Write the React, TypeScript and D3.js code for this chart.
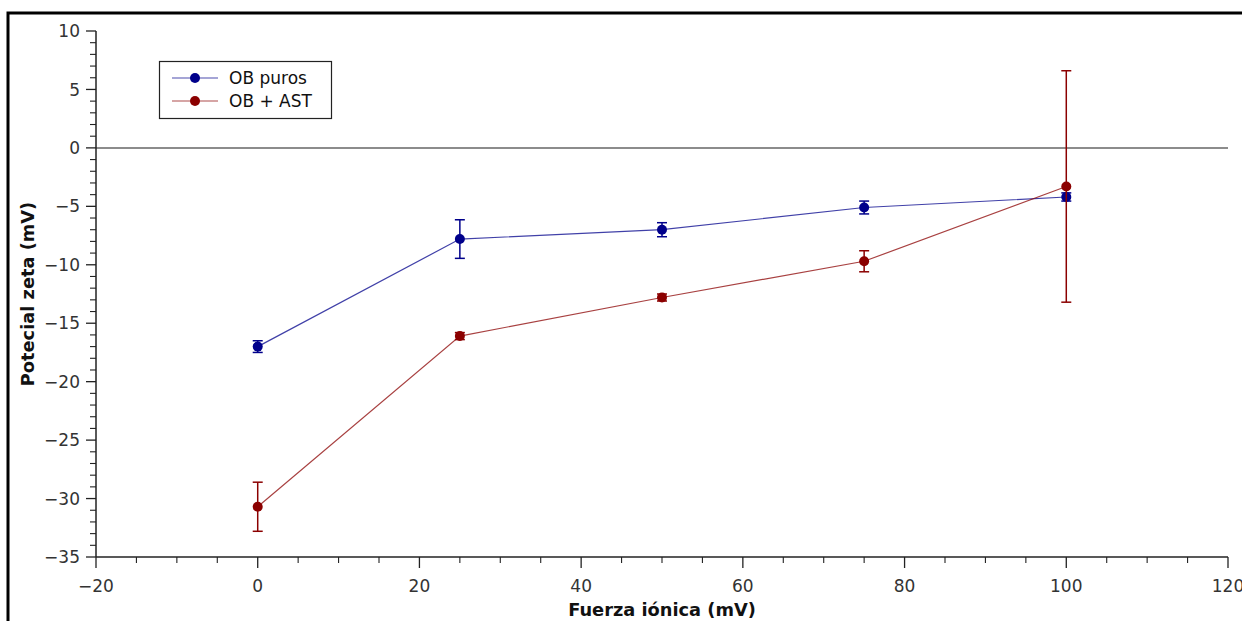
import * as d3 from 'd3';

const fuerza = [0, 25, 50, 75, 100];
const obPuros = [-17.0, -7.8, -7.0, -5.1, -4.2];
const obPurosErr = [0.5, 1.65, 0.6, 0.55, 0.35];
const obAst = [-30.7, -16.1, -12.8, -9.7, -3.3];
const obAstErr = [2.1, 0.3, 0.3, 0.9, 9.9];

const seriesNames = ['OB puros', 'OB + AST'];
const seriesColors = ['#00008b', '#8b0000'];

const xTicks = [-20, 0, 20, 40, 60, 80, 100, 120];
const yTicks = [10, 5, 0, -5, -10, -15, -20, -25, -30, -35];

const width = 1242;
const height = 621;
const marginLeft = 96;
const marginRight = 14;
const marginTop = 31;
const marginBottom = 64;

const font = 'DejaVu Sans, sans-serif';

function App() {
    const x = d3.scaleLinear([-20, 120], [marginLeft, width - marginRight]);
    const y = d3.scaleLinear([-35, 10], [height - marginBottom, marginTop]);

    const xMinor = d3.range(-20, 121, 5).filter((v) => v % 20 !== 0);
    const yMinor = d3.range(-35, 11, 1).filter((v) => v % 5 !== 0);

    const line = d3.line<number>()
        .x((_, i) => x(fuerza[i]))
        .y((d) => y(d));

    const series = [
        { vals: obPuros, err: obPurosErr },
        { vals: obAst, err: obAstErr },
    ];

    const axisColor = '#222';
    const labelColor = '#333';
    const y0 = height - marginBottom;

    return (
        <svg width={width} height={height} style={{ position: 'fixed', left: 0, top: 0, background: '#fff' }}>
            {/* outer frame running off the page */}
            <rect x={8} y={13} width={width + 20} height={height + 20} fill="none" stroke="#000" strokeWidth={3} />

            {/* zero line */}
            <line x1={x(-20)} x2={x(120)} y1={y(0)} y2={y(0)} stroke="#666" strokeWidth={1.5} />

            {/* y axis */}
            <line x1={marginLeft} x2={marginLeft} y1={y(10)} y2={y(-35)} stroke={axisColor} strokeWidth={1.5} />
            {yTicks.map((t) => (
                <g key={'y' + t}>
                    <line x1={marginLeft - 10} x2={marginLeft} y1={y(t)} y2={y(t)} stroke={axisColor} strokeWidth={1.3} />
                    <text x={marginLeft - 16} y={y(t)} dy="0.36em" textAnchor="end" fontFamily={font} fontSize={17} fill={labelColor}>
                        {t < 0 ? '\u2212' + Math.abs(t) : t}
                    </text>
                </g>
            ))}
            {yMinor.map((t) => (
                <line key={'ym' + t} x1={marginLeft - 6} x2={marginLeft} y1={y(t)} y2={y(t)} stroke={axisColor} strokeWidth={1.1} />
            ))}

            {/* x axis */}
            <line x1={x(-20)} x2={x(120)} y1={y0} y2={y0} stroke={axisColor} strokeWidth={1.5} />
            {xTicks.map((t) => (
                <g key={'x' + t}>
                    <line x1={x(t)} x2={x(t)} y1={y0} y2={y0 + 11} stroke={axisColor} strokeWidth={1.3} />
                    <text x={x(t)} y={y0 + 35} textAnchor="middle" fontFamily={font} fontSize={17} fill={labelColor}>
                        {t < 0 ? '\u2212' + Math.abs(t) : t}
                    </text>
                </g>
            ))}
            {xMinor.map((t) => (
                <line key={'xm' + t} x1={x(t)} x2={x(t)} y1={y0} y2={y0 + 6} stroke={axisColor} strokeWidth={1.1} />
            ))}

            {/* axis titles */}
            <text x={(x(-20) + x(120)) / 2} y={616} textAnchor="middle" fontFamily={font} fontWeight="bold" fontSize={17.8} fill="#111">
                Fuerza iónica (mV)
            </text>
            <text
                transform={`translate(34,${(y(10) + y(-35)) / 2}) rotate(-90)`}
                textAnchor="middle"
                fontFamily={font}
                fontWeight="bold"
                fontSize={17.8}
                fill="#111"
            >
                Potecial zeta (mV)
            </text>

            {/* series */}
            {series.map((s, si) => (
                <g key={'s' + si}>
                    <path d={line(s.vals) || ''} fill="none" stroke={seriesColors[si]} strokeWidth={1.2} strokeOpacity={0.75} />
                    {s.vals.map((v, i) => {
                        const cx = x(fuerza[i]);
                        const top = y(v + s.err[i]);
                        const bot = y(v - s.err[i]);
                        return (
                            <g key={i} stroke={seriesColors[si]} strokeWidth={1.5}>
                                <line x1={cx} x2={cx} y1={top} y2={bot} />
                                <line x1={cx - 5} x2={cx + 5} y1={top} y2={top} />
                                <line x1={cx - 5} x2={cx + 5} y1={bot} y2={bot} />
                                <circle cx={cx} cy={y(v)} r={5} fill={seriesColors[si]} stroke="none" />
                            </g>
                        );
                    })}
                </g>
            ))}

            {/* legend */}
            <g>
                <rect x={159.5} y={61.5} width={172} height={57} fill="#fff" stroke={axisColor} strokeWidth={1.2} />
                {seriesNames.map((name, i) => (
                    <g key={name} transform={`translate(0,${78 + i * 23})`}>
                        <line x1={172} x2={218} y1={0} y2={0} stroke={seriesColors[i]} strokeWidth={1.2} strokeOpacity={0.7} />
                        <circle cx={195} cy={0} r={5} fill={seriesColors[i]} />
                        <text x={229} y={0} dy="0.36em" fontFamily={font} fontSize={17} fill="#111">
                            {name}
                        </text>
                    </g>
                ))}
            </g>
        </svg>
    );
}

export default App;
